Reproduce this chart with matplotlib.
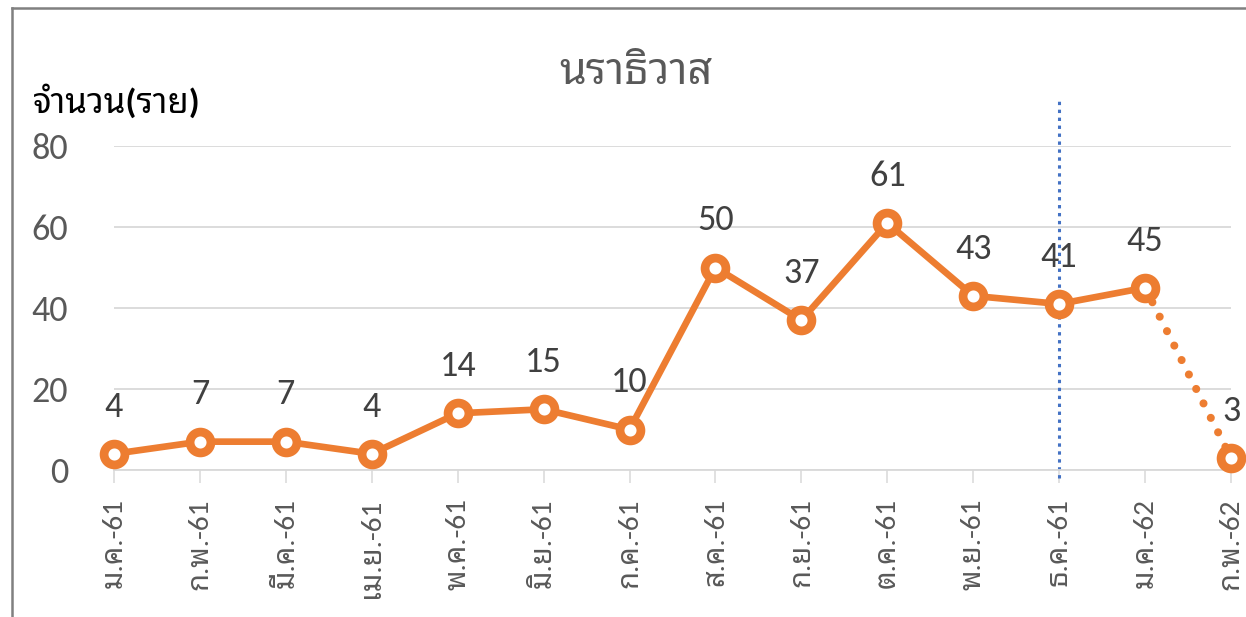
import matplotlib

matplotlib.use("Agg")
import matplotlib.pyplot as plt
from matplotlib.lines import Line2D

# Carlito for digits, a looped Thai face for the Thai glyphs
plt.rcParams["font.family"] = ["Carlito", "Noto Sans Thai Looped", "Sarabun",
                               "Noto Sans Thai", "DejaVu Sans"]

# data
months = ["ม.ค.-61", "ก.พ.-61", "มี.ค.-61", "เม.ย.-61", "พ.ค.-61", "มิ.ย.-61", "ก.ค.-61",
          "ส.ค.-61", "ก.ย.-61", "ต.ค.-61", "พ.ย.-61", "ธ.ค.-61", "ม.ค.-62", "ก.พ.-62"]
cases = [4, 7, 7, 4, 14, 15, 10, 50, 37, 61, 43, 41, 45, 3]
yticks = [0, 20, 40, 60, 80]
marker_month = "ธ.ค.-61"

ORANGE = "#ED7D31"
BLUE = "#4472C4"
GRID = "#D9D9D9"

W, H = 1246, 617
fig = plt.figure(figsize=(W / 100, H / 100), dpi=100, facecolor="white")
ax = fig.add_axes([114 / W, 1 - 470 / H, (1231 - 114) / W, (470 - 146) / H])

x = list(range(len(months)))
# solid part, then dotted last segment
ax.plot(x[:-1], cases[:-1], color=ORANGE, lw=4.8, solid_capstyle="round",
        solid_joinstyle="round", zorder=3)
ax.plot(x[-2:], cases[-2:], color=ORANGE, lw=5.8, linestyle=(0, (0.01, 2.0)),
        dash_capstyle="round", zorder=3)
ax.plot(x, cases, linestyle="none", marker="o", ms=15, mew=6.3,
        mfc="white", mec=ORANGE, zorder=4, clip_on=False)

for xi, v in zip(x, cases):
    ax.annotate(str(v), (xi, v), xytext=(0, 34), textcoords="offset points",
                ha="center", va="center", fontsize=26, color="#404040", zorder=5)

# vertical dotted marker line
xi = months.index(marker_month)
ax.axvline(xi, ymin=-0.025, ymax=1.151, color=BLUE, lw=2.2,
           linestyle=(0, (1.1, 1.5)), clip_on=False, zorder=2)

ax.set_xlim(x[0], x[-1])
ax.set_ylim(0, 80)
ax.set_xticks(x)
ax.set_xticklabels(months, rotation=90, fontsize=21, color="#595959")
ax.set_yticks(yticks)
ax.set_yticklabels([str(t) for t in yticks], fontsize=26, color="#595959")
ax.tick_params(axis="y", length=0, pad=33)
ax.tick_params(axis="x", length=9.5, width=1.1, color=GRID, pad=11)
ax.grid(axis="y", color=GRID, lw=1.3)
ax.set_axisbelow(True)
for s in ["top", "right", "left"]:
    ax.spines[s].set_visible(False)
ax.spines["bottom"].set_color(GRID)
ax.spines["bottom"].set_linewidth(1.3)

fig.text(636 / W, 1 - 72 / H, "นราธิวาส", ha="center", va="center",
         fontsize=31, color="#595959")
fig.text(33 / W, 1 - 101 / H, "จำนวน(ราย)", ha="left", va="center",
         fontsize=25, fontweight="bold", color="black")

# chart border (cropped Excel frame)
fig.add_artist(Line2D([12 / W, 12 / W], [0, 1 - 8 / H], color="#808080", lw=1.8))
fig.add_artist(Line2D([12 / W, 1], [1 - 8 / H, 1 - 8 / H], color="#808080", lw=1.8))

fig.savefig("out.png", dpi=100, facecolor="white")
